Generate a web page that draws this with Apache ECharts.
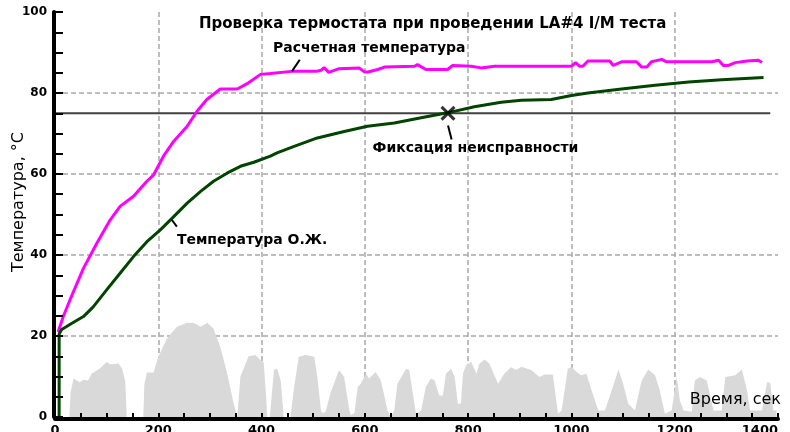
<!DOCTYPE html>
<html><head><meta charset="utf-8">
<script src="https://cdn.jsdelivr.net/npm/echarts@6/dist/echarts.min.js"></script>
<style>html,body{margin:0;padding:0;background:#fff}#c{width:790px;height:432px}</style>
</head><body><div id="c"></div>
<script>
// ---- data ----
const titleText = 'Проверка термостата при проведении LA#4 I/M теста';
const yTitle = 'Температура, °С';
const xTitle = 'Время, сек';
const calcName = 'Расчетная температура';
const coolName = 'Температура О.Ж.';
const faultName = 'Фиксация неисправности';

const calcTime = [6,16,29,55,81,107,126,152,178,191,210,230,256,275,294,320,353,372,398,417,463,508,515,521,530,550,589,599,606,625,638,696,702,718,760,770,806,825,851,1000,1008,1016,1022,1032,1074,1081,1097,1126,1136,1146,1155,1175,1184,1272,1285,1294,1304,1317,1340,1362,1369];
const calcTemp = [21,24.8,28.9,36.7,42.9,48.7,52,54.5,58.2,59.8,64.4,68.1,71.8,75.5,78.4,81,81,82.3,84.6,84.8,85.4,85.4,85.6,86.3,85.1,86,86.2,85.2,85.2,85.8,86.4,86.6,87,85.8,85.8,86.8,86.6,86.2,86.6,86.6,87.5,86.6,86.6,87.9,87.9,86.8,87.7,87.7,86.4,86.4,87.7,88.3,87.7,87.7,88.1,86.8,86.8,87.5,87.9,88.1,87.5];

const coolTime = [8,8,13,32,55,74,100,126,152,178,204,227,256,282,307,333,359,385,417,430,463,508,560,605,657,709,760,812,864,903,961,1000,1032,1097,1162,1227,1291,1372];
const coolTemp = [0,20.5,21.6,23.1,24.8,27.2,31.4,35.5,39.6,43.3,46.2,49.1,52.8,55.7,58.2,60.2,61.9,62.9,64.4,65.2,66.8,68.9,70.5,71.8,72.6,73.9,75.1,76.6,77.7,78.2,78.4,79.4,80,81,81.9,82.7,83.3,83.8];

const speedTime = [28,30,36,48,55,64,71,87,100,107,113,123,130,136,139,171,173,178,191,200,217,236,256,269,282,295,307,320,333,346,353,359,375,388,398,404,408,411,416,424,430,437,443,456,463,472,485,502,508,515,518,524,534,550,560,570,573,580,586,592,602,608,621,631,644,650,657,663,680,686,692,699,709,718,728,735,744,751,757,767,774,780,786,790,796,806,816,822,832,841,858,870,883,893,903,922,938,948,964,974,981,993,1000,1010,1019,1029,1039,1052,1065,1078,1091,1100,1110,1123,1136,1149,1162,1171,1181,1194,1204,1210,1217,1233,1239,1249,1262,1275,1291,1298,1317,1330,1340,1346,1369,1379,1385,1391,1397];
const speedVal = [0,6,9.5,8.6,9.2,9,10.7,12,13.6,13,13,13.2,12,8.8,0,0,8,11,11,14.9,19.4,22.3,23.3,23.2,22.3,23.3,21.8,17.3,11,3.3,0,10,15,15.3,14,13.6,6.6,0,0,11.6,12,9,0,0,7.4,14.9,15.3,14.9,9.9,1.6,1,1.3,6.2,11.6,9.9,1.6,0.5,1,7.4,8.2,10.7,9.5,11.1,9,1.6,0,1.6,8.2,11.9,11.6,6.6,0.8,1.6,7.4,9.5,9,5.3,5.3,10.7,11.9,9.9,3.3,3.3,10.7,12.8,13.6,10.7,13.2,14.2,13.2,8.2,10.7,12.3,11.6,12.4,11.6,9.9,10.5,10.5,0.8,1.6,11.9,12.4,11.1,10.3,10.7,6.6,1.6,1.6,6.6,11.7,8.2,3.3,1.6,9,11.7,10.3,6.6,0.8,1.6,9.9,4.1,1.6,1.3,9,9.9,9,1.6,1.6,9.9,10.3,11.7,6.6,1.6,1.6,8.6,8.4,1.6,1.6];

const thresholdTime = [0,1385];
const thresholdTemp = [75,75];
const faultPoint = [761,75];

const xTicks = {min:0,max:1400,interval:200};
const yTicks = {min:0,max:100,interval:20};

// annotation anchors (data coordinates)
const calcLeader = [[459,85.4],[474,88.2]];
const coolLeader = [[226,48.7],[236,47.0]];
const faultLeader = [[761,72.0],[768,68.5]];
const calcLabelAt = [422,91.1];
const coolLabelAt = [236,43.7];
const faultLabelAt = [615,66.4];

const zip = (a,b)=>a.map((v,i)=>[v,b[i]]);

const chart = echarts.init(document.getElementById('c'), null, {renderer:'canvas'});
const labelFont = 'DejaVu Sans';
const txtFont = 'DejaVu Sans';
const dashed = {show:true, showMinLine:false, showMaxLine:false, lineStyle:{color:'#a8a8a8', width:1.5, type:[5,3]}};

chart.setOption({
  animation:false,
  backgroundColor:'#fff',
  title:{text:titleText, left:194, top:12, textStyle:{fontFamily:txtFont, fontSize:15, fontWeight:'bold', color:'#000'}},
  grid:{left:55, top:12, width:723, height:405, containLabel:false, outerBoundsMode:'none'},
  xAxis:[
    {type:'value', position:'bottom', min:xTicks.min, max:xTicks.max, interval:xTicks.interval, z:0,
     axisLine:{show:false}, axisTick:{show:false}, axisLabel:{show:false}, splitLine:dashed},
    {type:'value', position:'bottom', min:xTicks.min, max:xTicks.max, interval:xTicks.interval, z:10, offset:2,
     axisLine:{show:true, onZero:false, lineStyle:{color:'#000', width:4}},
     axisTick:{show:true, inside:true, length:6, lineStyle:{color:'#000', width:2}},
     minorTick:{show:true, splitNumber:4, length:6, lineStyle:{color:'#000', width:2}},
     axisLabel:{show:true, margin:5, color:'#000', fontFamily:labelFont, fontSize:13, fontWeight:'bold', alignMaxLabel:'right', formatter:v=>String(v)},
     splitLine:{show:false}}
  ],
  yAxis:[
    {type:'value', position:'left', min:yTicks.min, max:yTicks.max, interval:yTicks.interval, z:0,
     axisLine:{show:false}, axisTick:{show:false}, axisLabel:{show:false}, splitLine:dashed},
    {type:'value', position:'left', min:yTicks.min, max:yTicks.max, interval:yTicks.interval, z:10, offset:1,
     axisLine:{show:true, onZero:false, lineStyle:{color:'#000', width:4}},
     axisTick:{show:true, inside:true, length:9, lineStyle:{color:'#000', width:2}},
     minorTick:{show:true, splitNumber:4, length:9, lineStyle:{color:'#000', width:2}},
     axisLabel:{show:true, margin:7, color:'#000', fontFamily:labelFont, fontSize:12, fontWeight:'bold', formatter:v=>String(v)},
     splitLine:{show:false}}
  ],
  series:[
    {type:'line', name:'speed', data:zip(speedTime,speedVal), symbol:'none', z:1,
     lineStyle:{width:0}, areaStyle:{color:'#d9d9d9', opacity:1}, itemStyle:{color:'#d9d9d9'}},
    {type:'line', name:'threshold', data:zip(thresholdTime,thresholdTemp), symbol:'none', z:3,
     lineStyle:{color:'#404040', width:2}},
    {type:'line', name:calcName, data:zip(calcTime,calcTemp), symbol:'none', z:4,
     lineStyle:{color:'#ff00ff', width:3}},
    {type:'line', name:coolName, data:zip(coolTime,coolTemp), symbol:'none', z:5,
     lineStyle:{color:'#004400', width:3}},
    {type:'scatter', name:'fault', data:[faultPoint], z:6,
     symbol:'path://M0,2L2,0L7,5L12,0L14,2L9,7L14,12L12,14L7,9L2,14L0,12L5,7Z',
     symbolSize:15, itemStyle:{color:'#000'}}
  ]
});

const px = p => chart.convertToPixel({xAxisIndex:0,yAxisIndex:0}, p);
const leader = pts => ({type:'polyline', z:20, shape:{points:pts.map(px)}, style:{stroke:'#000', lineWidth:2, fill:null}});
const label = (p, text, size) => { const q = px(p); return {type:'text', z:20, x:q[0], y:q[1],
  style:{text, fill:'#000', font:'bold '+size+'px "'+txtFont+'"', textAlign:'left', textVerticalAlign:'middle'}}; };

chart.setOption({graphic:[
  leader(calcLeader), leader(coolLeader), leader(faultLeader),
  label(calcLabelAt, calcName, 14),
  label(coolLabelAt, coolName, 14),
  label(faultLabelAt, faultName, 14),
  {type:'text', z:20, x:781, y:400, style:{text:xTitle, fill:'#000', font:'16px "DejaVu Sans"', textAlign:'right', textVerticalAlign:'middle'}},
  {type:'text', z:20, x:19, y:202, rotation:Math.PI/2, style:{text:yTitle, fill:'#000', font:'16px "DejaVu Sans"', textAlign:'center', textVerticalAlign:'middle'}}
]});
</script>
</body></html>
